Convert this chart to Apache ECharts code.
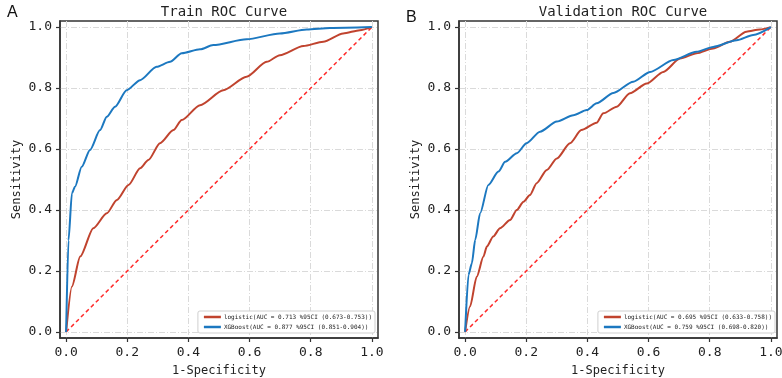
<!DOCTYPE html>
<html>
<head>
<meta charset="utf-8">
<script src="https://cdn.jsdelivr.net/npm/echarts@6/dist/echarts.min.js"></script>
<style>
  html, body { margin: 0; padding: 0; background: #fff; }
  #main { width: 782px; height: 378px; }
</style>
</head>
<body>
<div id="main"></div>
<script>
// 刻度
var ticks = [0, 0.2, 0.4, 0.6, 0.8, 1.0];

// Train ROC: [1-Specificity, Sensitivity]
var trainLogistic = [
  [0, 0], [0.019, 0.149], [0.046, 0.247], [0.089, 0.34], [0.133, 0.389], [0.166, 0.433],
  [0.204, 0.482], [0.242, 0.537], [0.269, 0.564], [0.307, 0.619], [0.351, 0.662],
  [0.378, 0.695], [0.438, 0.744], [0.514, 0.793], [0.59, 0.837], [0.656, 0.886],
  [0.699, 0.908], [0.776, 0.938], [0.841, 0.952], [0.906, 0.979], [0.961, 0.99], [1, 1]
];
var trainXgb = [
  [0, 0], [0.0077, 0.30], [0.019, 0.455], [0.029, 0.476], [0.051, 0.542], [0.078, 0.597],
  [0.111, 0.662], [0.133, 0.706], [0.16, 0.739], [0.198, 0.793], [0.242, 0.826],
  [0.296, 0.87], [0.34, 0.886], [0.378, 0.914], [0.438, 0.927], [0.481, 0.941],
  [0.59, 0.96], [0.699, 0.979], [0.787, 0.992], [0.863, 0.997], [1, 1]
];

// Validation ROC
var validLogistic = [
  [0, 0], [0.016, 0.083], [0.038, 0.181], [0.06, 0.247], [0.071, 0.28], [0.092, 0.313],
  [0.114, 0.34], [0.147, 0.367], [0.169, 0.4], [0.191, 0.427], [0.212, 0.449],
  [0.234, 0.488], [0.267, 0.531], [0.3, 0.569], [0.343, 0.619], [0.38, 0.662],
  [0.43, 0.686], [0.452, 0.717], [0.496, 0.739], [0.539, 0.783], [0.594, 0.815],
  [0.648, 0.853], [0.703, 0.897], [0.757, 0.914], [0.811, 0.93], [0.866, 0.952],
  [0.92, 0.985], [0.964, 0.992], [1, 1]
];
var validXgb = [
  [0, 0], [0.011, 0.187], [0.022, 0.225], [0.033, 0.302], [0.049, 0.389], [0.076, 0.482],
  [0.109, 0.526], [0.131, 0.558], [0.169, 0.586], [0.201, 0.619], [0.245, 0.657],
  [0.3, 0.69], [0.354, 0.711], [0.398, 0.728], [0.43, 0.75], [0.485, 0.784],
  [0.55, 0.821], [0.605, 0.853], [0.681, 0.892], [0.757, 0.919], [0.811, 0.935],
  [0.888, 0.957], [0.942, 0.974], [1, 1]
];
var diagonal = [[0, 0], [1, 1]];

var trainNames = ['logistic(AUC = 0.713 %95CI (0.673-0.753))', 'XGBoost(AUC = 0.877 %95CI (0.851-0.904))'];
var validNames = ['logistic(AUC = 0.695 %95CI (0.633-0.758))', 'XGBoost(AUC = 0.759 %95CI (0.698-0.820))'];

var RED = '#c0432e', BLUE = '#1c78c0';
var FONT = 'DejaVu Sans Mono';

function xAxisOf(i) {
  return {
    type: 'value', gridIndex: i, min: -0.02, max: 1.02,
    name: '1-Specificity', nameLocation: 'middle', nameGap: 27,
    nameTextStyle: { fontFamily: FONT, fontSize: 12, color: '#222' },
    axisLine: { show: true, onZero: false, lineStyle: { color: '#333', width: 1.5 } },
    axisTick: { show: true, length: 4, customValues: ticks, lineStyle: { color: '#333', width: 1.2 } },
    axisLabel: { customValues: ticks, margin: 8, fontFamily: FONT, fontSize: 13, color: '#222',
      formatter: function (v) { return v.toFixed(1); } },
    splitLine: { show: true, customValues: ticks, lineStyle: { color: '#dadada', type: [6, 2, 1, 2], width: 1 } }
  };
}
function yAxisOf(i) {
  return {
    type: 'value', gridIndex: i, min: -0.02, max: 1.02,
    name: 'Sensitivity', nameLocation: 'middle', nameGap: 37,
    nameTextStyle: { fontFamily: FONT, fontSize: 12, color: '#222' },
    axisLine: { show: true, onZero: false, lineStyle: { color: '#333', width: 1.5 } },
    axisTick: { show: true, length: 4, customValues: ticks, lineStyle: { color: '#333', width: 1.2 } },
    axisLabel: { customValues: ticks, margin: 8, fontFamily: FONT, fontSize: 13, color: '#222',
      formatter: function (v) { return v.toFixed(1); } },
    splitLine: { show: true, customValues: ticks, lineStyle: { color: '#dadada', type: [6, 2, 1, 2], width: 1 } }
  };
}
function curve(name, data, color, i) {
  return {
    name: name, type: 'line', xAxisIndex: i, yAxisIndex: i, data: data,
    smooth: 0.25, smoothMonotone: 'x',
    showSymbol: false, symbol: 'none', lineStyle: { color: color, width: 2 }, itemStyle: { color: color },
    animation: false, z: 3
  };
}
function diag(i) {
  return {
    type: 'line', xAxisIndex: i, yAxisIndex: i, data: diagonal, symbol: 'none',
    lineStyle: { color: '#ff2a2a', width: 1.5, type: [4, 3] }, animation: false, z: 2, silent: true
  };
}
function legendOf(names, right) {
  return {
    data: names, orient: 'vertical', right: right, bottom: 45,
    icon: 'rect', itemWidth: 17, itemHeight: 2.5, itemGap: 4,
    backgroundColor: '#fff', borderColor: '#cfcfcf', borderWidth: 1, borderRadius: 2,
    padding: [3, 3, 3, 6],
    textStyle: { fontFamily: FONT, fontSize: 6, color: '#222', padding: [0, 0, 0, -2] }
  };
}

var chart = echarts.init(document.getElementById('main'));
chart.setOption({
  animation: false,
  backgroundColor: '#fff',
  title: [
    { text: 'Train ROC Curve', left: 219, top: 0, textAlign: 'center',
      textStyle: { fontFamily: FONT, fontSize: 14, fontWeight: 'normal', color: '#222' } },
    { text: 'Validation ROC Curve', left: 618, top: 0, textAlign: 'center',
      textStyle: { fontFamily: FONT, fontSize: 14, fontWeight: 'normal', color: '#222' } },
    { text: 'A', left: 2, top: 0, textStyle: { fontFamily: 'Liberation Sans', fontSize: 16, fontWeight: 'normal', color: '#111' } },
    { text: 'B', left: 401, top: 5, textStyle: { fontFamily: 'Liberation Sans', fontSize: 16, fontWeight: 'normal', color: '#111' } }
  ],
  grid: [
    { left: 60, top: 21, width: 318, height: 317, outerBoundsMode: 'none', containLabel: false,
      show: true, borderColor: '#333', borderWidth: 1.5, backgroundColor: 'transparent' },
    { left: 459, top: 21, width: 318, height: 317, outerBoundsMode: 'none', containLabel: false,
      show: true, borderColor: '#333', borderWidth: 1.5, backgroundColor: 'transparent' }
  ],
  xAxis: [xAxisOf(0), xAxisOf(1)],
  yAxis: [yAxisOf(0), yAxisOf(1)],
  legend: [legendOf(trainNames, 407), legendOf(validNames, 7)],
  series: [
    diag(0),
    curve(trainNames[0], trainLogistic, RED, 0),
    curve(trainNames[1], trainXgb, BLUE, 0),
    diag(1),
    curve(validNames[0], validLogistic, RED, 1),
    curve(validNames[1], validXgb, BLUE, 1)
  ]
});
</script>
</body>
</html>
